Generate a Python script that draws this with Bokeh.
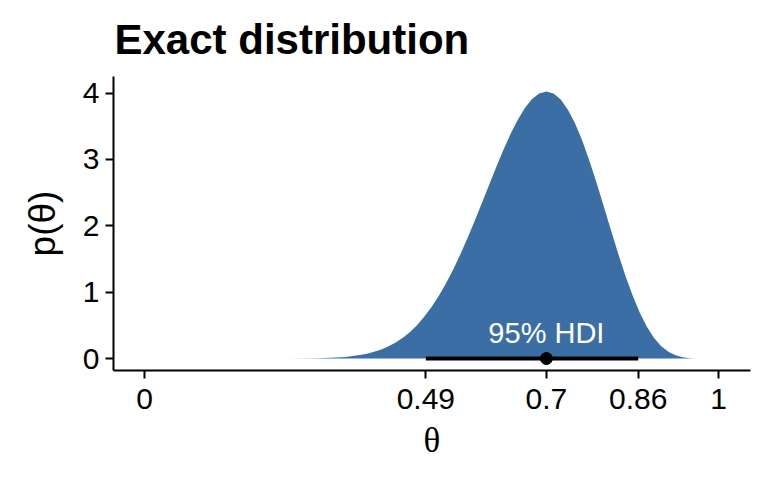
from bokeh.plotting import figure
from bokeh.models import Range1d, FixedTicker, CustomJSTickFormatter, ColumnDataSource
from bokeh.core.properties import value
from bokeh.embed import file_html
from bokeh.resources import INLINE

# density curve
theta = [0.20, 0.25, 0.30, 0.325, 0.35, 0.375, 0.3875, 0.40, 0.4125, 0.425, 0.4375,
         0.45, 0.4625, 0.475, 0.4875, 0.50, 0.5125, 0.525, 0.5375, 0.55, 0.5625,
         0.575, 0.5875, 0.60, 0.6125, 0.625, 0.6375, 0.65, 0.6625, 0.675, 0.6875,
         0.70, 0.7125, 0.725, 0.7375, 0.75, 0.7625, 0.775, 0.7875, 0.80, 0.8125,
         0.825, 0.8375, 0.85, 0.8625, 0.875, 0.8875, 0.90, 0.9125, 0.925, 0.9375,
         0.95, 0.9625, 0.975, 1.0]
density = [0.00004, 0.0005, 0.0046, 0.011, 0.025, 0.053, 0.074, 0.102, 0.138, 0.185, 0.243,
           0.315, 0.402, 0.507, 0.632, 0.776, 0.942, 1.130, 1.339, 1.567, 1.812,
           2.072, 2.340, 2.613, 2.883, 3.142, 3.382, 3.596, 3.775, 3.910, 3.995,
           4.024, 3.995, 3.903, 3.750, 3.541, 3.281, 2.978, 2.644, 2.291, 1.933,
           1.582, 1.252, 0.953, 0.694, 0.479, 0.310, 0.186, 0.101, 0.049, 0.020,
           0.006, 0.0013, 0.0001, 0.0]

hdi_low = 0.49
hdi_high = 0.86
mode = 0.7
x_ticks = [0, 0.49, 0.7, 0.86, 1]
y_ticks = [0, 1, 2, 3, 4]

p = figure(width=752, height=464, output_backend="svg", toolbar_location=None,
           x_range=Range1d(-0.054, 1.0555), y_range=Range1d(-0.18, 4.25),
           min_border_left=113, min_border_right=2, min_border_top=75, min_border_bottom=94)

p.title.text = "Exact distribution"
p.title.text_font = "Liberation Sans"
p.title.text_font_size = "42px"
p.title.text_font_style = "bold"
p.title.text_color = "black"
p.title.align = "left"
p.title.offset = 1
p.title.standoff = 27

src = ColumnDataSource(dict(x=theta, y=density))
p.varea(x="x", y1=0, y2="y", source=src, fill_color="#3A6EA5")

p.segment(x0=[hdi_low], y0=[0], x1=[hdi_high], y1=[0], line_color="black", line_width=4)
p.scatter(x=[mode], y=[0], size=12, color="black")
p.text(x=[mode], y=[0.38], text=["95% HDI"], text_color="white", text_align="center",
       text_baseline="alphabetic", text_font=value("Liberation Sans"), text_font_size="29px")

p.xgrid.visible = False
p.ygrid.visible = False
p.outline_line_color = None

p.xaxis.ticker = FixedTicker(ticks=x_ticks)
p.xaxis.formatter = CustomJSTickFormatter(code="return tick.toString();")
p.yaxis.ticker = FixedTicker(ticks=y_ticks)

for ax in (p.xaxis[0], p.yaxis[0]):
    ax.axis_line_width = 2
    ax.axis_line_color = "black"
    ax.major_tick_line_width = 2
    ax.major_tick_line_color = "black"
    ax.major_tick_out = 8
    ax.major_tick_in = 0
    ax.minor_tick_line_color = None
    ax.major_label_text_font = "Liberation Sans"
    ax.major_label_text_font_size = "30px"
    ax.major_label_text_color = "black"
    ax.axis_label_text_font_style = "normal"
    ax.axis_label_text_color = "black"

p.xaxis.axis_label = "θ"
p.xaxis.axis_label_text_font = "Liberation Serif"
p.xaxis.axis_label_text_font_size = "35px"
p.xaxis.major_label_standoff = 10
p.xaxis.axis_label_standoff = 9

p.yaxis.axis_label = "p(θ)"
p.yaxis.axis_label_text_font = "Liberation Sans"
p.yaxis.axis_label_text_font_size = "37px"
p.yaxis.major_label_standoff = 6
p.yaxis.axis_label_standoff = 17

open("out.html", "w").write(file_html(p, INLINE))
